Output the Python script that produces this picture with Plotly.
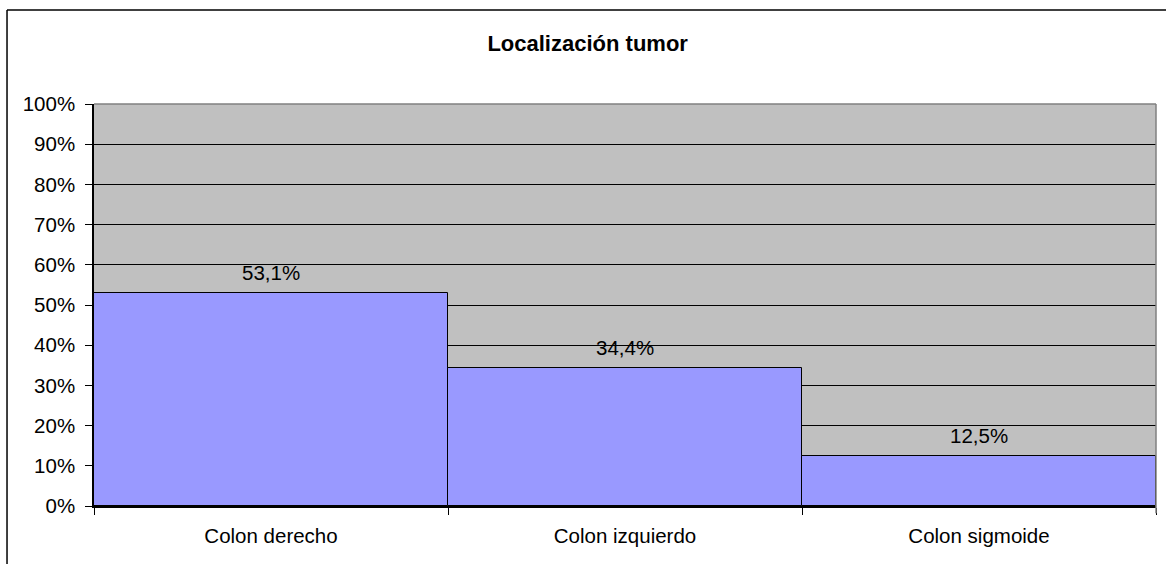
import plotly.graph_objects as go

# Datos del gráfico
categorias = ["Colon derecho", "Colon izquierdo", "Colon sigmoide"]
porcentajes = [53.1, 34.4, 12.5]
etiquetas = ["53,1%", "34,4%", "12,5%"]

FONT = "Liberation Sans, Arial, sans-serif"

fig = go.Figure()
fig.add_trace(go.Bar(
    x=categorias,
    y=porcentajes,
    marker=dict(color="#9999FF", line=dict(color="black", width=1)),
    hoverinfo="skip",
))

# Etiquetas de datos encima de cada barra
for cat, val, txt in zip(categorias, porcentajes, etiquetas):
    fig.add_annotation(
        x=cat, y=val, text=txt, showarrow=False,
        yanchor="middle", yshift=20,
        font=dict(family=FONT, size=20.5, color="black"),
    )

# Borde gris del área de trazado (arriba y derecha)
fig.add_shape(type="line", xref="paper", yref="paper", x0=0, x1=1, y0=1, y1=1,
              line=dict(color="#808080", width=1.5))
fig.add_shape(type="line", xref="paper", yref="paper", x0=1, x1=1, y0=1, y1=-0.018,
              line=dict(color="#808080", width=1.5))
# Marco exterior del gráfico
fig.add_shape(type="line", xref="paper", yref="paper", x0=-0.0819, x1=-0.0819, y0=1.2338, y1=-0.2,
              line=dict(color="black", width=1.5))
fig.add_shape(type="line", xref="paper", yref="paper", x0=-0.0819, x1=1.2, y0=1.2338, y1=1.2338,
              line=dict(color="black", width=1.5))

fig.update_layout(
    width=1166,
    height=564,
    title=dict(
        text="<b>Localización tumor</b>",
        x=0.504, xref="container", xanchor="center",
        y=1 - 43 / 564, yref="container", yanchor="middle",
        font=dict(family=FONT, size=22, color="black"),
    ),
    bargap=0,
    showlegend=False,
    plot_bgcolor="#C0C0C0",
    paper_bgcolor="white",
    font=dict(family=FONT, size=20.5, color="black"),
    margin=dict(l=94, r=10, t=104, b=58, autoexpand=False),
    xaxis=dict(
        type="category",
        showgrid=False,
        showline=True, linecolor="black", linewidth=1.5,
        ticks="outside", tickson="boundaries", ticklen=7, tickcolor="black",
        ticklabelstandoff=11,
        tickfont=dict(family=FONT, size=20.5),
        fixedrange=True,
    ),
    yaxis=dict(
        range=[0, 100],
        dtick=10,
        ticksuffix="%",
        showgrid=True, gridcolor="black", gridwidth=1,
        zeroline=False,
        showline=True, linecolor="black", linewidth=1.5,
        ticks="outside", ticklen=7, tickcolor="black",
        ticklabelstandoff=6,
        tickfont=dict(family=FONT, size=20.5),
        fixedrange=True,
    ),
)

# Sin margen del body para que la figura empiece en (0, 0)
fig.write_html(
    "out.html",
    config={"displayModeBar": False},
    post_script="document.body.style.margin='0';",
)
